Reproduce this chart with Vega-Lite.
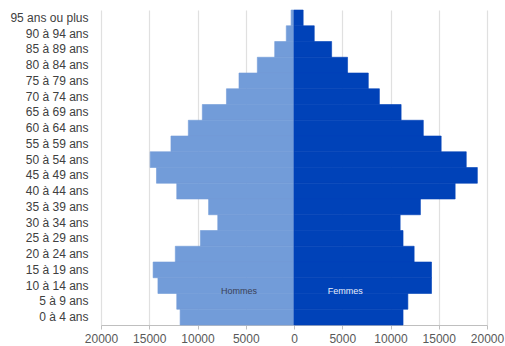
{
  "$schema": "https://vega.github.io/schema/vega-lite/v6.json",
  "width": 386,
  "height": 315,
  "autosize": {"type": "none"},
  "padding": {"left": 101, "top": 10, "right": 18, "bottom": 21},
  "background": "white",
  "config": {"view": {"stroke": null}, "font": "Liberation Sans"},
  "datasets": {
    "pop": [
      {"age": "95 ans ou plus", "sexe": "Hommes", "valeur": -300},
      {"age": "90 à 94 ans", "sexe": "Hommes", "valeur": -800},
      {"age": "85 à 89 ans", "sexe": "Hommes", "valeur": -2000},
      {"age": "80 à 84 ans", "sexe": "Hommes", "valeur": -3800},
      {"age": "75 à 79 ans", "sexe": "Hommes", "valeur": -5700},
      {"age": "70 à 74 ans", "sexe": "Hommes", "valeur": -7000},
      {"age": "65 à 69 ans", "sexe": "Hommes", "valeur": -9500},
      {"age": "60 à 64 ans", "sexe": "Hommes", "valeur": -10950},
      {"age": "55 à 59 ans", "sexe": "Hommes", "valeur": -12750},
      {"age": "50 à 54 ans", "sexe": "Hommes", "valeur": -14900},
      {"age": "45 à 49 ans", "sexe": "Hommes", "valeur": -14250},
      {"age": "40 à 44 ans", "sexe": "Hommes", "valeur": -12150},
      {"age": "35 à 39 ans", "sexe": "Hommes", "valeur": -8850},
      {"age": "30 à 34 ans", "sexe": "Hommes", "valeur": -7900},
      {"age": "25 à 29 ans", "sexe": "Hommes", "valeur": -9700},
      {"age": "20 à 24 ans", "sexe": "Hommes", "valeur": -12300},
      {"age": "15 à 19 ans", "sexe": "Hommes", "valeur": -14600},
      {"age": "10 à 14 ans", "sexe": "Hommes", "valeur": -14100},
      {"age": "5 à 9 ans", "sexe": "Hommes", "valeur": -12150},
      {"age": "0 à 4 ans", "sexe": "Hommes", "valeur": -11800},
      {"age": "95 ans ou plus", "sexe": "Femmes", "valeur": 950},
      {"age": "90 à 94 ans", "sexe": "Femmes", "valeur": 2100},
      {"age": "85 à 89 ans", "sexe": "Femmes", "valeur": 3900},
      {"age": "80 à 84 ans", "sexe": "Femmes", "valeur": 5550},
      {"age": "75 à 79 ans", "sexe": "Femmes", "valeur": 7700},
      {"age": "70 à 74 ans", "sexe": "Femmes", "valeur": 8850},
      {"age": "65 à 69 ans", "sexe": "Femmes", "valeur": 11100},
      {"age": "60 à 64 ans", "sexe": "Femmes", "valeur": 13400},
      {"age": "55 à 59 ans", "sexe": "Femmes", "valeur": 15250},
      {"age": "50 à 54 ans", "sexe": "Femmes", "valeur": 17850},
      {"age": "45 à 49 ans", "sexe": "Femmes", "valeur": 19000},
      {"age": "40 à 44 ans", "sexe": "Femmes", "valeur": 16700},
      {"age": "35 à 39 ans", "sexe": "Femmes", "valeur": 13100},
      {"age": "30 à 34 ans", "sexe": "Femmes", "valeur": 11000},
      {"age": "25 à 29 ans", "sexe": "Femmes", "valeur": 11300},
      {"age": "20 à 24 ans", "sexe": "Femmes", "valeur": 12450},
      {"age": "15 à 19 ans", "sexe": "Femmes", "valeur": 14250},
      {"age": "10 à 14 ans", "sexe": "Femmes", "valeur": 14250},
      {"age": "5 à 9 ans", "sexe": "Femmes", "valeur": 11800},
      {"age": "0 à 4 ans", "sexe": "Femmes", "valeur": 11300}
    ],
    "labels": [
      {"age": "10 à 14 ans", "sexe": "Hommes", "valeur": -5700},
      {"age": "10 à 14 ans", "sexe": "Femmes", "valeur": 5300}
    ]
  },
  "encoding": {
    "y": {
      "field": "age",
      "type": "nominal",
      "sort": ["95 ans ou plus", "90 à 94 ans", "85 à 89 ans", "80 à 84 ans", "75 à 79 ans", "70 à 74 ans", "65 à 69 ans", "60 à 64 ans", "55 à 59 ans", "50 à 54 ans", "45 à 49 ans", "40 à 44 ans", "35 à 39 ans", "30 à 34 ans", "25 à 29 ans", "20 à 24 ans", "15 à 19 ans", "10 à 14 ans", "5 à 9 ans", "0 à 4 ans"],
      "scale": {"paddingInner": 0, "paddingOuter": 0},
      "axis": {"title": null, "domain": false, "ticks": false, "labelPadding": 13, "labelFontSize": 12, "labelColor": "#404040", "labelFont": "Liberation Sans"}
    },
    "x": {
      "field": "valeur",
      "type": "quantitative",
      "scale": {"domain": [-20000, 20000], "nice": false},
      "axis": {
        "title": null,
        "values": [-20000, -15000, -10000, -5000, 0, 5000, 10000, 15000, 20000],
        "labelExpr": "format(abs(datum.value), 'd')",
        "labelFontSize": 12,
        "labelColor": "#595959",
        "labelPadding": 4,
        "domainColor": "#bfbfbf",
        "tickColor": "#bfbfbf",
        "tickSize": 4,
        "gridColor": "#e0e0e0",
        "gridWidth": 1.2,
        "labelFlush": false
      }
    }
  },
  "layer": [
    {
      "data": {"name": "pop"},
      "mark": {"type": "bar", "strokeWidth": 0.6},
      "encoding": {
        "color": {
          "field": "sexe",
          "type": "nominal",
          "scale": {"domain": ["Hommes", "Femmes"], "range": ["#729cd9", "#0042b8"]},
          "legend": null
        },
        "stroke": {
          "field": "sexe",
          "type": "nominal",
          "scale": {"domain": ["Hommes", "Femmes"], "range": ["#729cd9", "#0042b8"]},
          "legend": null
        }
      }
    },
    {
      "data": {"name": "labels"},
      "mark": {"type": "text", "fontSize": 9, "dy": 5, "font": "Liberation Sans"},
      "encoding": {
        "text": {"field": "sexe"},
        "color": {
          "field": "sexe",
          "type": "nominal",
          "scale": {"domain": ["Hommes", "Femmes"], "range": ["#3a3f55", "#e6edfb"]},
          "legend": null
        }
      }
    }
  ],
  "resolve": {"scale": {"color": "independent"}}
}
